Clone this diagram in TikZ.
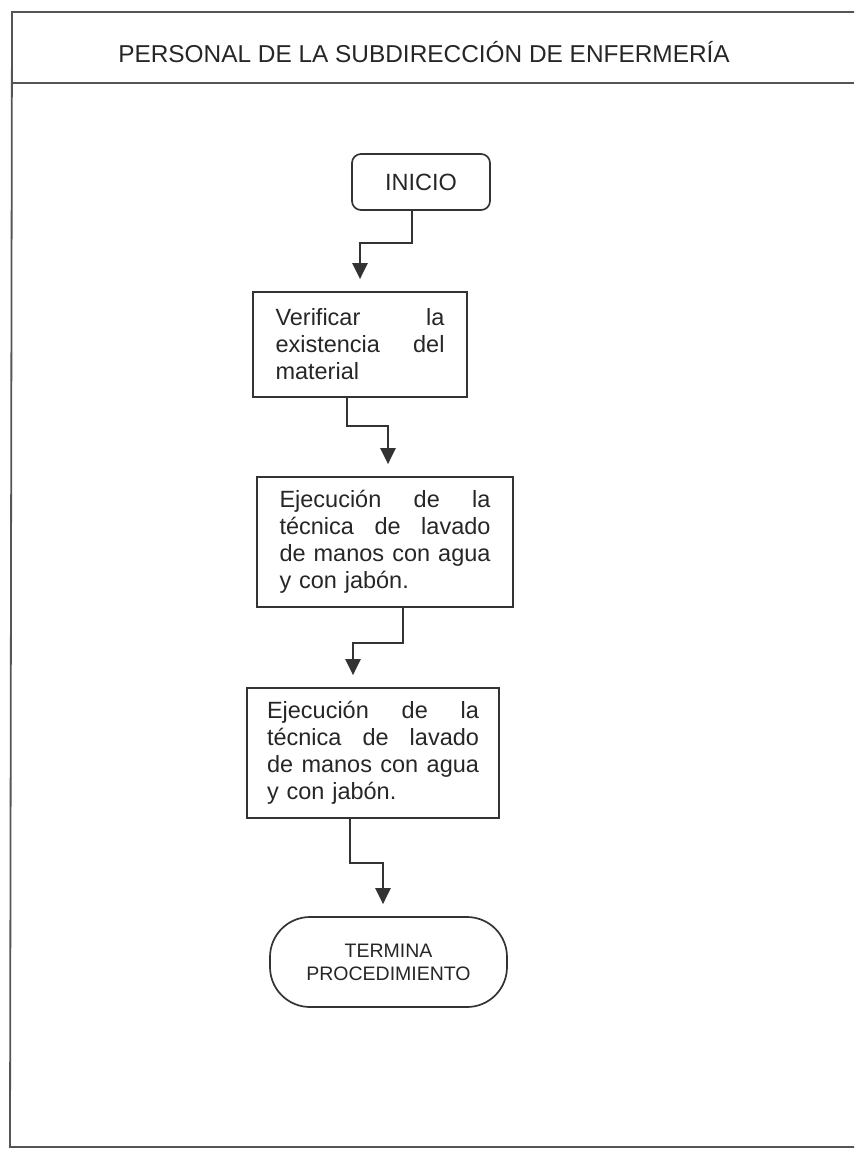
\documentclass[tikz,border=0pt]{standalone}
\usepackage{fontspec}
\setmainfont{Liberation Sans}
\usetikzlibrary{arrows.meta}
\definecolor{inkgray}{HTML}{333333}
\definecolor{textgray}{HTML}{262626}
\definecolor{framegray}{HTML}{555555}
\tikzset{
  frame/.style={draw=framegray, line width=1.8pt},
  stepbox/.style={draw=inkgray, line width=1.7pt, align=left, inner sep=0pt,
    font=\fontsize{23.5}{27}\selectfont, text=textgray},
  startbox/.style={draw=inkgray, line width=1.7pt, rounded corners=9pt, inner sep=0pt,
    minimum width=138pt, minimum height=56pt, font=\fontsize{23.5}{27}\selectfont, text=textgray},
  endbox/.style={draw=inkgray, line width=1.7pt, rounded corners=40pt, inner sep=0pt,
    minimum width=237pt, minimum height=90pt, align=center,
    font=\fontsize{19.5}{23}\selectfont, text=textgray},
  flow/.style={draw=inkgray, line width=2.6pt, shorten >=12pt,
    -{Triangle[width=15pt,length=16pt]}},
}
\begin{document}
\begin{tikzpicture}[x=1pt,y=-1pt]
	\useasboundingbox (0,0) rectangle (854,1151);
	% outer frame and header
	\draw[frame] (854,12) -- (12,12) -- (10,1147) -- (854,1147);
	\draw[frame] (12,83) -- (854,83);
	\node[text=textgray, font=\fontsize{24.4}{28}\selectfont] (titulo) at (424,52) {PERSONAL DE LA SUBDIRECCIÓN DE ENFERMERÍA};
	% steps
	\node[startbox] (inicio) at (421,182) {INICIO};
	\node[stepbox, text width=169pt, minimum width=214pt, minimum height=105pt] (verificar) at (360,344.5)
		{Verificar\hfill la\\ existencia\hfill del\\ material};
	\node[stepbox, text width=211pt, minimum width=256pt, minimum height=130pt] (lavado1) at (385,542)
		{Ejecución\hfill de\hfill la\\ técnica\hfill de\hfill lavado\\ de\hfill manos\hfill con\hfill agua\\ y con jabón.};
	\node[stepbox, text width=212pt, minimum width=252pt, minimum height=130pt] (lavado2) at (373,753)
		{Ejecución\hfill de\hfill la\\ técnica\hfill de\hfill lavado\\ de\hfill manos\hfill con\hfill agua\\ y con jabón.};
	\node[endbox] (termina) at (388.5,962) {TERMINA\\PROCEDIMIENTO};
	% connectors
	\draw[flow] ([xshift=-9pt]inicio.south) -- ++(0,32) -| (verificar.north);
	\draw[flow] ([xshift=-13pt]verificar.south) -- ++(0,28) -| ([xshift=3pt]lavado1.north);
	\draw[flow] ([xshift=18pt]lavado1.south) -- ++(0,35) -| ([xshift=-20pt]lavado2.north);
	\draw[flow] ([xshift=-23pt]lavado2.south) -- ++(0,44) -| ([xshift=-5.5pt]termina.north);
\end{tikzpicture}
\end{document}
